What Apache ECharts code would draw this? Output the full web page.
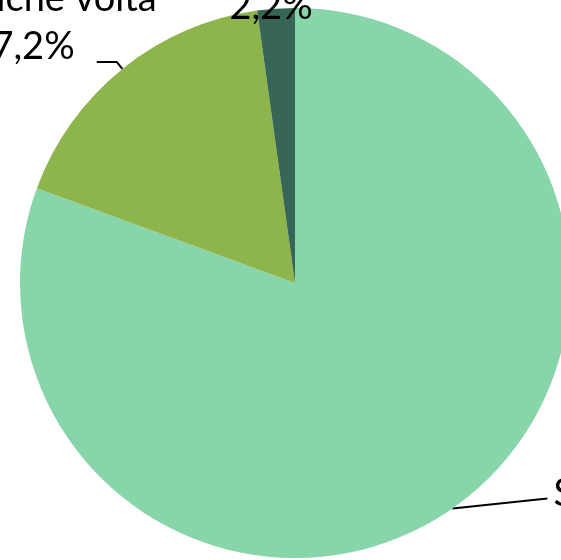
<!DOCTYPE html>
<html>
<head>
<meta charset="utf-8">
<script src="https://cdn.jsdelivr.net/npm/echarts@6/dist/echarts.min.js"></script>
<style>
  html, body { margin: 0; padding: 0; background: #fff; }
  #pie-chart { width: 561px; height: 560px; }
</style>
</head>
<body>
<div id="pie-chart"></div>
<script>
const categories = ['Sì, sempre', 'Sì, qualche volta', 'No, mai']
const percentages = [80.6, 17.2, 2.2]
const colors = ['#88d5a9', '#8db54b', '#376657']

// centred label blocks: `edge` is where the first line should start (left side)
// or end (right side), measured from the end of the leader line
const labelShift = [
  { edge: 1, dy: 9, lift: 10 },
  { edge: 65, dy: -39, lift: 0 },
  { edge: null, dy: -26, lift: 0 }
]
const lineLength = [[0, 95], [9, 20], [0, 0]]

let pieChart = echarts.init(document.getElementById('pie-chart'))
pieChart.setOption({
  animation: false,
  series: [{
    type: 'pie',
    center: [295, 283],
    radius: 275,
    startAngle: 90,
    clockwise: true,
    avoidLabelOverlap: false,
    emphasis: { disabled: true },
    itemStyle: { borderWidth: 0 },
    label: {
      show: true,
      position: 'outside',
      overflow: 'none',
      color: '#000',
      fontFamily: 'Lato',
      fontSize: 38,
      lineHeight: 48,
      distanceToLabelLine: 5,
      formatter: p => p.name + '\n' + p.value.toFixed(1).replace('.', ',') + '%'
    },
    labelLine: {
      show: true,
      lineStyle: { color: '#000', width: 2 }
    },
    labelLayout: params => {
      let s = labelShift[params.dataIndex]
      let w = params.labelRect.width
      let dx = 0
      if (s.edge !== null) {
        // default anchor: left edge on the right side, right edge on the left side
        dx = params.dataIndex === 0 ? s.edge + w / 2 : s.edge - w / 2
      }
      let out = { align: 'center', dx: dx, dy: s.dy }
      if (s.lift && params.labelLinePoints) {
        let pts = params.labelLinePoints.map(q => q.slice())
        pts[2][1] -= s.lift
        out.labelLinePoints = pts
      }
      return out
    },
    data: categories.map((name, i) => ({
      name: name,
      value: percentages[i],
      itemStyle: { color: colors[i] },
      labelLine: {
        show: i !== 2,
        length: lineLength[i][0],
        length2: lineLength[i][1]
      }
    }))
  }]
})
</script>
</body>
</html>
